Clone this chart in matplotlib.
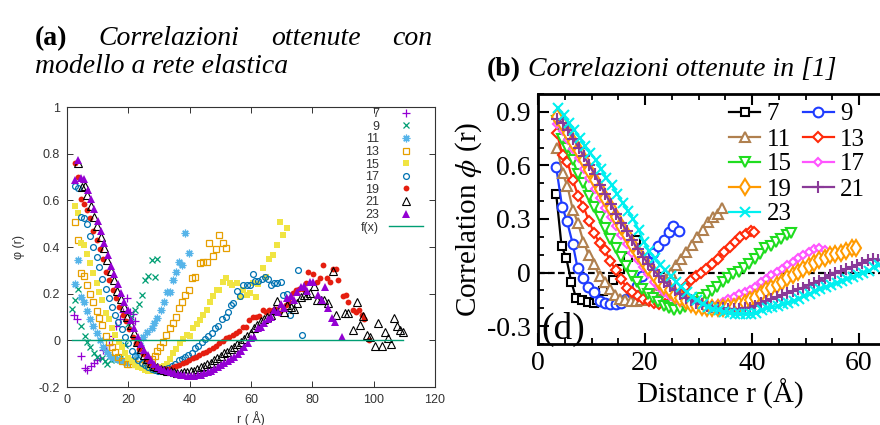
import numpy as np
import matplotlib
matplotlib.use('Agg')
import matplotlib.pyplot as plt
from matplotlib.ticker import MultipleLocator, FixedLocator
from matplotlib.lines import Line2D

# ---------------- Panel (a) data: elastic network model ----------------
labels_a = ['7', '9', '11', '13', '15', '17', '19', '21', '23']
r7a = [2.2, 3.4, 4.6, 5.9, 6.6, 7.8, 8.8, 9.8, 10.8, 11.6, 12.7, 13.8, 15.0, 16.1, 17.3, 18.4, 19.5, 20.6, 21.4, 22.2]
p7a = [0.11, 0.09, -0.065, -0.12, -0.125, -0.11, -0.095, -0.085, -0.075, -0.04, -0.04, -0.02, 0.02, 0.06, 0.09, 0.12, 0.18, 0.12, 0.115, 0.085]
r9a = [1.5, 2.6, 3.6, 4.7, 5.9, 6.6, 7.5, 8.8, 9.7, 11.3, 12.4, 13.0, 14.3, 15.4, 16.5, 17.6, 18.8, 20.0, 21.0, 22.2, 23.6, 24.5, 25.5, 26.5, 27.6, 28.7, 29.5]
p9a = [0.133, 0.173, 0.22, 0.06, 0.02, -0.006, -0.03, -0.053, -0.07, -0.077, -0.09, -0.1, -0.085, -0.08, -0.078, -0.07, -0.02, 0.07, 0.1, 0.13, 0.156, 0.195, 0.26, 0.275, 0.345, 0.27, 0.35]
r11a = [2.6, 3.5, 4.6, 5.5, 6.6, 7.5, 8.6, 9.7, 10.8, 11.8, 12.9, 14.0, 15.1, 16.2, 17.3, 18.4, 19.5, 20.6, 21.7, 22.8,
        23.9, 24.9, 26.0, 27.6, 28.4, 29.5, 30.7, 31.6, 32.5, 33.6, 34.7, 35.4, 36.6, 37.6, 38.5, 39.8]
p11a = [0.24, 0.344, 0.187, 0.166, 0.127, 0.09, 0.06, 0.03, 0.0, -0.03, -0.05, -0.065, -0.075, -0.08, -0.085, -0.09, -0.095, -0.09, -0.08, -0.06,
        -0.02, 0.016, 0.037, 0.054, 0.073, 0.097, 0.13, 0.166, 0.209, 0.209, 0.259, 0.294, 0.334, 0.323, 0.459, 0.373]
r13a = [2.6, 3.5, 4.6, 5.5, 6.6, 7.5, 8.6, 9.7, 10.5, 11.5, 12.7, 13.7, 14.6, 15.7, 16.7, 17.8, 19.5, 20.5, 21.6, 22.6,
        23.6, 24.6, 25.6, 26.6, 27.6, 28.6, 29.4, 30.3, 31.4, 32.2, 33.6, 34.7, 35.5, 36.5, 37.6, 38.5, 39.7, 40.7, 41.7, 43.4,
        44.5, 45.5, 46.4, 47.7, 48.6, 49.6, 50.8, 51.7]
p13a = [0.506, 0.43, 0.29, 0.277, 0.239, 0.199, 0.163, 0.127, 0.097, 0.066, 0.019, -0.006, -0.027, -0.049, -0.073, -0.09, -0.1, -0.1, -0.09, -0.1,
        -0.1, -0.105, -0.1, -0.095, -0.08, -0.065, -0.045, -0.027, -0.006, 0.023, 0.051, 0.073, 0.099, 0.137, 0.163, 0.194, 0.216, 0.266, 0.27, 0.33,
        0.337, 0.337, 0.416, 0.36, 0.39, 0.451, 0.416, 0.394]
r15a = [2.6, 3.5, 4.6, 5.5, 6.6, 7.5, 8.6, 9.7, 10.5, 11.5, 12.7, 13.7, 14.6, 15.7, 16.8, 17.8, 18.9, 20.0, 21.1, 22.2,
        23.3, 24.3, 25.4, 26.5, 27.6, 28.7, 29.8, 30.9, 31.6, 32.5, 33.6, 34.7, 35.7, 36.8, 37.9, 39.0, 40.1, 41.2, 42.3, 43.4,
        44.5, 45.6, 46.6, 47.7, 48.8, 49.7, 50.8, 51.7, 53.0, 53.9, 55.3, 56.4, 57.5, 58.6, 59.7, 60.8, 61.6, 62.4, 63.8, 64.8,
        65.9, 67.1, 68.4, 69.5, 70.5, 71.6]
p15a = [0.576, 0.544, 0.419, 0.409, 0.37, 0.33, 0.29, 0.247, 0.209, 0.173, 0.119, 0.09, 0.054, 0.023, -0.005, -0.03, -0.055, -0.075, -0.09, -0.105,
        -0.115, -0.12, -0.125, -0.13, -0.13, -0.125, -0.12, -0.113, -0.11, -0.1, -0.08, -0.056, -0.035, -0.013, 0.005, 0.023, 0.02, 0.052, 0.07, 0.087,
        0.11, 0.13, 0.166, 0.19, 0.216, 0.216, 0.251, 0.266, 0.244, 0.237, 0.247, 0.187, 0.216, 0.194, 0.201, 0.244, 0.184, 0.241, 0.309, 0.273,
        0.349, 0.366, 0.409, 0.509, 0.451, 0.483]
r17a = [2.6, 3.5, 4.6, 5.5, 6.6, 7.5, 8.6, 9.7, 10.5, 11.5, 12.7, 13.7, 14.6, 15.7, 16.7, 17.8, 18.9, 20.0, 21.1, 22.2,
        23.3, 24.3, 25.4, 26.5, 27.6, 28.7, 29.8, 30.9, 32.0, 33.0, 34.1, 35.2, 36.5, 37.6, 38.5, 39.6, 40.7, 41.7, 42.8, 43.9,
        45.0, 46.1, 47.2, 48.2, 49.3, 50.4, 51.7, 52.6, 53.5, 54.2, 55.5, 56.4, 57.5, 58.6, 59.7, 60.5, 61.3, 62.4, 63.5, 64.6,
        65.7, 66.5, 67.5, 68.6, 69.7, 70.5, 71.6, 72.7, 75.4, 76.7]
p17a = [0.661, 0.651, 0.53, 0.526, 0.497, 0.447, 0.401, 0.359, 0.316, 0.261, 0.22, 0.18, 0.141, 0.109, 0.077, 0.047, 0.016, -0.013, -0.044, -0.067,
        -0.084, -0.096, -0.106, -0.116, -0.121, -0.127, -0.13, -0.13, -0.124, -0.12, -0.11, -0.101, -0.084, -0.081, -0.07, -0.063, -0.053, -0.034, -0.023, -0.006,
        0.004, 0.019, 0.033, 0.051, 0.061, 0.09, 0.101, 0.123, 0.151, 0.159, 0.213, 0.19, 0.237, 0.237, 0.237, 0.284, 0.256, 0.256, 0.261, 0.27,
        0.261, 0.237, 0.244, 0.244, 0.251, 0.194, 0.199, 0.109, 0.301, 0.023]
r19a = [2.6, 3.7, 4.6, 5.5, 6.5, 7.5, 8.6, 9.7, 10.8, 11.6, 12.7, 13.8, 14.9, 16.0, 17.1, 18.2, 19.2, 20.3, 21.4, 22.5,
        23.6, 24.7, 25.8, 26.8, 27.9, 29.0, 30.1, 31.2, 32.3, 33.4, 34.5, 35.5, 36.6, 37.7, 38.8, 39.9, 41.0, 42.1, 43.2, 44.2,
        45.3, 46.4, 47.5, 48.6, 49.7, 50.8, 51.8, 52.9, 54.0, 55.1, 56.2, 57.3, 58.4, 59.5, 60.5, 61.6, 62.7, 63.8, 64.9, 66.0,
        67.1, 68.2, 69.2, 70.3, 71.4, 72.5, 73.6, 74.7, 75.8, 76.8, 77.9, 78.7, 80.3, 81.4, 82.5, 83.6, 84.7, 85.8, 86.8, 87.7,
        88.5, 90.1, 91.0, 91.7, 93.2, 94.3, 95.1, 96.2, 96.9, 98.6]
p19a = [0.759, 0.699, 0.606, 0.584, 0.56, 0.523, 0.47, 0.43, 0.39, 0.347, 0.293, 0.259, 0.216, 0.18, 0.144, 0.109, 0.084, 0.049, 0.016, -0.013,
        -0.039, -0.059, -0.08, -0.099, -0.11, -0.116, -0.121, -0.124, -0.124, -0.121, -0.116, -0.11, -0.106, -0.099, -0.093, -0.084, -0.077, -0.07, -0.063, -0.056,
        -0.049, -0.041, -0.034, -0.024, -0.013, -0.001, 0.009, 0.016, 0.023, 0.03, 0.041, 0.059, 0.059, 0.087, 0.099, 0.101, 0.104, 0.13, 0.123, 0.13,
        0.13, 0.133, 0.116, 0.133, 0.151, 0.166, 0.201, 0.216, 0.219, 0.219, 0.244, 0.294, 0.284, 0.251, 0.266, 0.323, 0.266, 0.251, 0.304, 0.304,
        0.259, 0.19, 0.194, 0.166, 0.13, 0.123, 0.13, 0.109, 0.09, 0.001]
r21a = [3.7, 4.8, 5.9, 6.6, 7.7, 8.8, 9.9, 11.0, 12.1, 13.2, 14.2, 15.3, 16.4, 17.5, 18.6, 19.7, 20.8, 21.8, 22.9, 24.0,
        25.1, 26.2, 27.3, 28.4, 29.5, 30.5, 31.6, 32.7, 33.8, 34.9, 36.0, 37.1, 38.2, 39.2, 40.3, 41.4, 42.5, 43.6, 44.7, 45.8,
        46.8, 47.9, 49.0, 50.1, 51.2, 52.3, 53.4, 54.5, 55.5, 56.6, 57.7, 58.8, 59.9, 61.0, 62.1, 63.2, 64.2, 65.3, 66.4, 67.5,
        68.6, 69.7, 70.8, 71.8, 72.9, 74.0, 75.1, 76.2, 77.3, 78.4, 79.4, 80.5, 81.6, 82.7, 83.8, 85.2, 86.8, 87.7, 90.6, 91.7,
        93.4, 94.5, 95.5, 96.6, 97.7, 98.8, 100.4, 101.5, 102.6, 103.7, 104.6, 105.6, 106.7, 107.5, 108.6, 109.7]
p21a = [0.759, 0.659, 0.661, 0.623, 0.576, 0.53, 0.49, 0.441, 0.394, 0.344, 0.299, 0.259, 0.213, 0.176, 0.141, 0.101, 0.066, 0.03, -0.006, -0.039,
        -0.063, -0.081, -0.099, -0.11, -0.116, -0.121, -0.127, -0.13, -0.133, -0.136, -0.139, -0.139, -0.136, -0.136, -0.13, -0.13, -0.124, -0.116, -0.11, -0.101,
        -0.096, -0.084, -0.077, -0.067, -0.056, -0.049, -0.039, -0.027, -0.016, -0.006, 0.004, 0.019, 0.033, 0.051, 0.066, 0.084, 0.09, 0.101, 0.109, 0.13,
        0.169, 0.144, 0.123, 0.151, 0.144, 0.133, 0.161, 0.187, 0.194, 0.194, 0.201, 0.233, 0.173, 0.173, 0.173, 0.161, 0.299, 0.109, 0.116, 0.116,
        0.044, 0.166, 0.066, 0.104, 0.023, 0.016, -0.024, 0.073, -0.024, 0.037, 0.009, -0.016, 0.094, 0.061, 0.044, 0.037]
r23a = [2.6, 3.5, 4.6, 5.7, 6.7, 7.8, 8.9, 10.0, 11.1, 12.2, 13.3, 14.3, 15.4, 16.5, 17.6, 18.7, 19.8, 20.9, 22.0, 23.0,
        24.1, 25.2, 26.3, 27.4, 28.5, 29.6, 30.7, 31.7, 32.8, 33.9, 35.0, 36.1, 37.2, 38.3, 39.3, 40.4, 41.5, 42.6, 43.7, 44.8,
        45.9, 47.0, 48.0, 49.1, 50.2, 51.3, 52.4, 53.5, 54.6, 55.7, 56.7, 57.8, 58.9, 60.0, 61.1, 62.2, 63.3, 64.3, 65.4, 66.5,
        67.6, 68.7, 69.8, 70.9, 71.8, 72.9, 74.0, 75.1, 76.2, 77.3, 78.4, 79.4, 80.3, 82.0, 83.0, 84.1, 85.2, 86.3, 87.4, 89.6]
p23a = [0.687, 0.773, 0.694, 0.69, 0.644, 0.604, 0.561, 0.513, 0.47, 0.419, 0.366, 0.319, 0.284, 0.241, 0.201, 0.166, 0.13, 0.087, 0.051, 0.016,
        -0.016, -0.041, -0.063, -0.084, -0.101, -0.113, -0.121, -0.127, -0.133, -0.136, -0.141, -0.144, -0.147, -0.15, -0.153, -0.153, -0.153, -0.15, -0.147, -0.141,
        -0.136, -0.13, -0.121, -0.113, -0.106, -0.096, -0.087, -0.079, -0.07, -0.059, -0.044, -0.027, -0.013, 0.009, 0.016, 0.051, 0.056, 0.073, 0.09, 0.099,
        0.13, 0.123, 0.156, 0.137, 0.18, 0.19, 0.173, 0.209, 0.227, 0.233, 0.213, 0.251, 0.251, 0.194, 0.173, 0.23, 0.137, 0.094, 0.08, 0.016]
fx_range = [1.5, 109.7]   # f(x) = 0 reference line
fx_value = 0.0

# ---------------- Panel (b) data: correlations from [1] ----------------
labels_b = ['7', '9', '11', '13', '15', '17', '19', '21', '23']
r7b = [3.4, 4.4, 5.3, 6.2, 7.1, 8.2, 9.4, 10.4, 11.0, 12.2, 14.0, 15.3, 16.8, 18.3]
p7b = [0.44, 0.15, 0.08, -0.05, -0.14, -0.155, -0.165, -0.17, -0.155, -0.103, -0.043, 0.02, 0.09, 0.18]
r9b = [3.4, 4.5, 5.4, 6.5, 7.4, 8.4, 9.4, 10.5, 11.6, 12.5, 13.5, 14.5, 15.5, 16.5, 17.5, 18.5, 19.5, 20.5, 21.5, 22.5, 23.5, 24.5, 25.3, 26.3]
p9b = [0.59, 0.37, 0.29, 0.16, 0.025, -0.03, -0.08, -0.11, -0.16, -0.172, -0.175, -0.178, -0.17, -0.15, -0.115, -0.075, -0.02, 0.06, 0.11, 0.15, 0.185, 0.225, 0.26, 0.235]
r11b = [3.6, 4.6, 5.5, 6.5, 7.5, 8.5, 9.5, 10.5, 11.5, 12.5, 13.5, 14.4, 15.3, 16.3, 17.3, 18.3, 19.3, 20.3, 21.3, 22.2,
        23.1, 24.0, 24.8, 25.8, 26.7, 27.6, 28.7, 29.8, 30.8, 31.8, 32.7, 33.6, 34.4]
p11b = [0.695, 0.555, 0.484, 0.353, 0.275, 0.172, 0.097, 0.047, -0.021, -0.052, -0.09, -0.127, -0.146, -0.155, -0.159, -0.157, -0.155, -0.15, -0.135, -0.1,
        -0.07, -0.035, -0.005, 0.04, 0.078, 0.116, 0.153, 0.2, 0.237, 0.284, 0.312, 0.33, 0.36]
r13b = [3.5, 4.6, 5.5, 6.5, 7.5, 8.5, 9.5, 10.5, 11.5, 12.5, 13.5, 14.5, 15.5, 16.6, 17.6, 18.7, 19.7, 20.7, 21.7, 22.7,
        23.7, 24.7, 25.6, 26.5, 27.5, 28.6, 29.6, 30.4, 31.4, 32.5, 33.6, 34.7, 35.8, 36.8, 37.8, 38.8, 39.8, 40.4]
p13b = [0.783, 0.658, 0.62, 0.518, 0.43, 0.37, 0.29, 0.22, 0.165, 0.125, 0.065, 0.015, -0.035, -0.085, -0.11, -0.13, -0.146, -0.16, -0.17, -0.175,
        -0.175, -0.165, -0.145, -0.118, -0.08, -0.043, -0.02, -0.002, 0.022, 0.05, 0.078, 0.116, 0.144, 0.172, 0.2, 0.215, 0.235, 0.228]
r15b = [3.5, 4.5, 5.5, 6.5, 7.5, 8.5, 9.5, 10.5, 11.5, 12.5, 13.5, 14.5, 15.5, 16.5, 17.5, 18.5, 19.5, 20.5, 21.5, 22.5,
        23.5, 24.5, 25.5, 26.5, 27.5, 28.5, 29.5, 30.5, 31.5, 32.5, 33.5, 34.5, 35.5, 36.5, 37.5, 38.5, 39.5, 40.5, 41.5, 42.5,
        43.5, 44.5, 45.5, 46.5, 47.3]
p15b = [0.85, 0.75, 0.70, 0.63, 0.55, 0.50, 0.43, 0.37, 0.31, 0.25, 0.19, 0.14, 0.09, 0.035, -0.02, -0.05, -0.09, -0.12, -0.145, -0.165,
        -0.185, -0.2, -0.207, -0.205, -0.195, -0.18, -0.165, -0.145, -0.127, -0.105, -0.08, -0.055, -0.03, -0.01, 0.005, 0.025, 0.05, 0.075, 0.105, 0.135,
        0.15, 0.17, 0.19, 0.21, 0.22]
r17b = [3.6, 4.6, 5.6, 6.6, 7.6, 8.6, 9.6, 10.6, 11.6, 12.6, 13.6, 14.6, 15.6, 16.6, 17.6, 18.6, 19.6, 20.6, 21.6, 22.6,
        23.6, 24.6, 25.6, 26.6, 27.6, 28.6, 29.6, 30.6, 31.6, 32.6, 33.6, 34.6, 35.6, 36.6, 37.6, 38.6, 39.6, 40.6, 41.6, 42.6,
        43.6, 44.6, 45.6, 46.6, 47.6, 48.6, 49.6, 50.6, 51.6, 52.6, 53.6]
p17b = [0.83, 0.79, 0.74, 0.69, 0.64, 0.58, 0.53, 0.47, 0.42, 0.36, 0.31, 0.26, 0.21, 0.16, 0.11, 0.07, 0.03, -0.01, -0.05, -0.08,
        -0.11, -0.13, -0.15, -0.165, -0.178, -0.188, -0.195, -0.198, -0.195, -0.185, -0.175, -0.163, -0.15, -0.135, -0.12, -0.107, -0.095, -0.078, -0.055, -0.035,
        -0.015, 0.004, 0.02, 0.04, 0.06, 0.08, 0.097, 0.115, 0.13, 0.135, 0.125]
r19b = [3.6, 4.6, 5.6, 6.6, 7.6, 8.6, 9.6, 10.6, 11.6, 12.6, 13.6, 14.6, 15.6, 16.6, 17.6, 18.6, 19.6, 20.6, 21.6, 22.6,
        23.6, 24.6, 25.6, 26.6, 27.6, 28.6, 29.6, 30.6, 31.6, 32.6, 33.6, 34.6, 35.6, 36.6, 37.6, 38.6, 39.6, 40.6, 41.6, 42.6,
        43.6, 44.6, 45.6, 46.6, 47.6, 48.6, 49.6, 50.6, 51.6, 52.6, 53.6, 54.6, 55.6, 56.6, 57.6, 58.6, 59.4]
p19b = [0.87, 0.83, 0.78, 0.73, 0.68, 0.63, 0.575, 0.52, 0.47, 0.415, 0.36, 0.31, 0.26, 0.21, 0.16, 0.11, 0.07, 0.03, -0.01, -0.045,
        -0.075, -0.1, -0.125, -0.145, -0.16, -0.175, -0.185, -0.193, -0.198, -0.2, -0.2, -0.2, -0.195, -0.19, -0.18, -0.172, -0.155, -0.14, -0.12, -0.1,
        -0.085, -0.07, -0.05, -0.033, -0.015, 0.005, 0.022, 0.037, 0.052, 0.068, 0.082, 0.097, 0.105, 0.112, 0.122, 0.135, 0.14]
r21b = [3.6, 4.6, 5.6, 6.6, 7.6, 8.6, 9.6, 10.6, 11.6, 12.6, 13.6, 14.6, 15.6, 16.6, 17.6, 18.6, 19.6, 20.6, 21.6, 22.6,
        23.6, 24.6, 25.6, 26.6, 27.6, 28.6, 29.6, 30.6, 31.6, 32.6, 33.6, 34.6, 35.6, 36.6, 37.6, 38.6, 39.6, 40.6, 41.6, 42.6,
        43.6, 44.6, 45.6, 46.6, 47.6, 48.6, 49.6, 50.6, 51.6, 52.6, 53.6, 54.6, 55.6, 56.6, 57.6, 58.6, 59.6, 60.6, 61.6, 62.6,
        63.6, 64.6]
p21b = [0.86, 0.84, 0.80, 0.75, 0.70, 0.65, 0.60, 0.55, 0.49, 0.44, 0.385, 0.33, 0.28, 0.23, 0.18, 0.13, 0.09, 0.05, 0.015, -0.02,
        -0.05, -0.075, -0.1, -0.12, -0.14, -0.155, -0.168, -0.178, -0.187, -0.193, -0.198, -0.2, -0.203, -0.205, -0.205, -0.2, -0.196, -0.185, -0.172, -0.16,
        -0.148, -0.137, -0.125, -0.113, -0.102, -0.092, -0.084, -0.07, -0.058, -0.045, -0.03, -0.015, -0.003, 0.008, 0.018, 0.03, 0.041, 0.055, 0.069, 0.075,
        0.073, 0.07]
r23b = [3.8, 4.8, 5.8, 6.8, 7.8, 8.8, 9.8, 10.8, 11.8, 12.8, 13.8, 14.8, 15.8, 16.8, 17.8, 18.8, 19.8, 20.8, 21.8, 22.8,
        23.8, 24.8, 25.8, 26.8, 27.8, 28.8, 29.8, 30.8, 31.8, 32.8, 33.8, 34.8, 35.8, 36.8, 37.8, 38.8, 39.8, 40.8, 41.8, 42.8,
        43.8, 44.8, 45.8, 46.8, 47.8, 48.8, 49.8, 50.8, 51.8, 52.8, 53.8, 54.8, 55.8, 56.8, 57.8, 58.8, 59.8, 60.8, 61.8, 62.8,
        63.8, 64.8]
p23b = [0.92, 0.88, 0.84, 0.80, 0.755, 0.71, 0.67, 0.63, 0.58, 0.53, 0.49, 0.44, 0.39, 0.345, 0.30, 0.24, 0.17, 0.12, 0.08, 0.045,
        0.015, -0.018, -0.05, -0.08, -0.11, -0.135, -0.155, -0.175, -0.19, -0.202, -0.212, -0.22, -0.226, -0.23, -0.232, -0.232, -0.23, -0.225, -0.21, -0.2,
        -0.193, -0.187, -0.178, -0.168, -0.158, -0.146, -0.133, -0.118, -0.103, -0.09, -0.08, -0.07, -0.058, -0.046, -0.035, -0.025, -0.013, 0.0, 0.01, 0.03,
        0.045, 0.055]

# ---------------- figure ----------------
W, H = 880, 425
fig = plt.figure(figsize=(8.8, 4.25), dpi=100)
def fx(px): return px / W
def fy(py): return 1 - py / H

# ======== Panel (a) : gnuplot style ========
axa = fig.add_axes([fx(67), fy(387), fx(435) - fx(67), fy(107) - fy(387)])
sans = 'Liberation Sans'
cols_a = ['#9400d3', '#009e73', '#56b4e9', '#e69f00', '#f0e442', '#0072b2', '#e51e10', 'black', '#9400d3']
styles_a = [
    dict(marker='+', ms=5.5, mew=0.9, mfc='none'),
    dict(marker='x', ms=4.5, mew=0.9, mfc='none'),
    dict(marker=(8, 2, 0), ms=5.5, mew=0.9, mfc='none'),
    dict(marker='s', ms=5, mew=0.9, mfc='none'),
    dict(marker='s', ms=5, mew=0.0, filled=True),
    dict(marker='o', ms=4.2, mew=0.9, mfc='none'),
    dict(marker='o', ms=4.2, mew=0.0, filled=True),
    dict(marker='^', ms=5.5, mew=0.8, mfc='none'),
    dict(marker='^', ms=5.5, mew=0.0, filled=True),
]
data_a = [(r7a, p7a), (r9a, p9a), (r11a, p11a), (r13a, p13a), (r15a, p15a),
          (r17a, p17a), (r19a, p19a), (r21a, p21a), (r23a, p23a)]
handles_a = []
for (r, p), c, st, lab in zip(data_a, cols_a, styles_a, labels_a):
    st = dict(st)
    filled = st.pop('filled', False)
    if filled:
        st['mfc'] = c
    h, = axa.plot(r, p, ls='none', color=c, mec=c, label=lab, **st)
    handles_a.append(h)
hf, = axa.plot(fx_range, [fx_value, fx_value], color='#009e73', lw=1.0, label='f(x)')
handles_a.append(hf)

axa.set_xlim(0, 120)
axa.set_ylim(-0.2, 1.0)
axa.xaxis.set_major_locator(MultipleLocator(20))
axa.yaxis.set_major_locator(FixedLocator([-0.2, 0, 0.2, 0.4, 0.6, 0.8, 1.0]))
axa.set_yticklabels(['-0.2', '0', '0.2', '0.4', '0.6', '0.8', '1'])
axa.tick_params(direction='in', length=4, width=0.7, top=True, right=True,
                labelsize=9, labelcolor='#333333', color='#333333', pad=5)
for lab in axa.get_xticklabels() + axa.get_yticklabels():
    lab.set_family(sans)
for s in axa.spines.values():
    s.set_color('#333333'); s.set_linewidth(0.8)
axa.set_ylabel('\u03c6 (r)', family=sans, fontsize=9, color='#333333', labelpad=10)
axa.set_xlabel('r ( \u00c5)', family=sans, fontsize=9, color='#333333', labelpad=4)
lega = axa.legend(handles=handles_a, loc='upper right', bbox_to_anchor=(fx(423), fy(108)),
                  bbox_transform=fig.transFigure, frameon=False, markerfirst=False,
                  prop={'family': sans, 'size': 9}, labelspacing=0.05, handlelength=2.7,
                  handletextpad=0.8, borderpad=0, borderaxespad=0, numpoints=1)
for t in lega.get_texts():
    t.set_color('#333333')

# ======== Panel (b) : xmgrace style ========
serif = 'Liberation Serif'
plt.rcParams['mathtext.fontset'] = 'stix'
xmax_b = 68
axb = fig.add_axes([fx(538), fy(344), xmax_b * 5.35 / W, fy(94) - fy(344)])
cols_b = ['black', '#1f3cff', '#b0804f', '#ff2a0a', '#1fdd1f', '#ff55ff', '#ff9a00', '#8a3a98', '#00f0f0']
styles_b = [
    dict(marker='s', ms=6), dict(marker='o', ms=7), dict(marker='^', ms=7.5),
    dict(marker='D', ms=5.5), dict(marker='v', ms=7.5), dict(marker='D', ms=4.5),
    dict(marker='d', ms=8), dict(marker='+', ms=8), dict(marker='x', ms=6.5),
]
data_b = [(r7b, p7b), (r9b, p9b), (r11b, p11b), (r13b, p13b), (r15b, p15b),
          (r17b, p17b), (r19b, p19b), (r21b, p21b), (r23b, p23b)]
handles_b = []
for (r, p), c, st, lab in zip(data_b, cols_b, styles_b, labels_b):
    h, = axb.plot(r, p, color=c, lw=1.6, mfc='white', mec=c, mew=1.5, label=lab, **st)
    handles_b.append(h)
axb.axhline(0, color='black', lw=1.6, ls=(0, (3, 1.5)), zorder=1)

axb.set_xlim(0, xmax_b)
axb.set_ylim(-0.4, 1.0)
axb.xaxis.set_major_locator(MultipleLocator(20))
axb.xaxis.set_minor_locator(MultipleLocator(5))
axb.yaxis.set_major_locator(FixedLocator([-0.3, 0, 0.3, 0.6, 0.9]))
axb.yaxis.set_minor_locator(MultipleLocator(0.1))
axb.set_yticklabels(['-0.3', '0', '0.3', '0.6', '0.9'])
axb.tick_params(which='major', direction='in', length=8, width=1.5, top=True, right=True,
                labelsize=20, pad=5)
axb.tick_params(which='minor', direction='in', length=4.5, width=1.3, top=True, right=True)
for lab in axb.get_xticklabels() + axb.get_yticklabels():
    lab.set_family(serif)
for s in axb.spines.values():
    s.set_linewidth(2.0)
axb.set_ylabel('Correlation $\\phi$ (r)', family=serif, fontsize=21, labelpad=2)
axb.set_xlabel('Distance r (\u00c5)', family=serif, fontsize=21, labelpad=2)
axb.text(0.6, -0.37, '(d)', family=serif, fontsize=27, ha='left', va='baseline')

order = [0, 2, 4, 6, 8, 1, 3, 5, 7]
legb = axb.legend(handles=[handles_b[i] for i in order], loc='upper left',
                  bbox_to_anchor=(fx(729), fy(103)), bbox_transform=fig.transFigure,
                  ncol=2, frameon=False, prop={'family': serif, 'size': 18},
                  labelspacing=0.1, handlelength=1.25, handletextpad=0.25,
                  columnspacing=0.45, borderpad=0, borderaxespad=0, numpoints=1)

# ======== Captions ========
cap = dict(family=serif, fontsize=20, va='baseline')
renderer = fig.canvas.get_renderer()
parts = [fig.text(0, fy(45), '(a)', weight='bold', **cap)]
for w in ['Correlazioni', 'ottenute', 'con']:
    parts.append(fig.text(0, fy(45), w, style='italic', **cap))
widths = [t.get_window_extent(renderer).width for t in parts]
x0, x1 = 35, 432
gap = (x1 - x0 - sum(widths)) / (len(parts) - 1)
x = x0
for t, w in zip(parts, widths):
    t.set_x(fx(x))
    x += w + gap
fig.text(fx(35), fy(73), 'modello a rete elastica', style='italic', **cap)
tb = fig.text(fx(487), fy(76), '(b)', weight='bold', **cap)
wb = tb.get_window_extent(renderer).width
fig.text(fx(487 + wb + 7), fy(76), 'Correlazioni ottenute in [1]', style='italic', **cap)

fig.savefig('out.png', dpi=100)
